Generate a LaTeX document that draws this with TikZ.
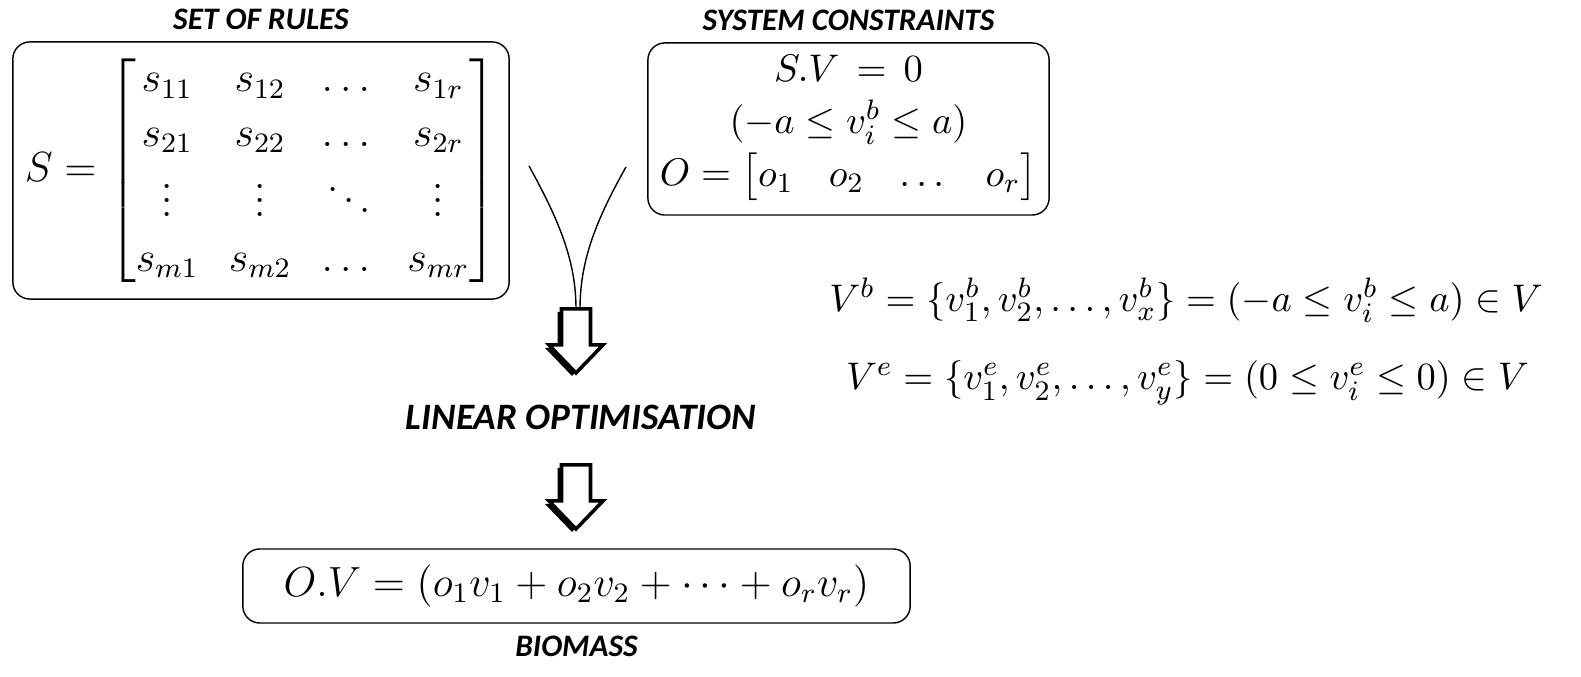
\documentclass[tikz,border=0pt]{standalone}
\usepackage{amsmath, amssymb}
\usepackage[no-math]{fontspec}
\newfontfamily\labelfont{Carlito}
\usepackage{tikz}
\usetikzlibrary{positioning}

\begin{document}
\begin{tikzpicture}[x=0.01cm, y=-0.01cm,
        box/.style={draw, rounded corners=0.17cm, inner sep=0pt},
        title/.style={font=\labelfont\bfseries\itshape\fontsize{8.9}{10}\selectfont, inner sep=0pt},
        eqn/.style={font=\fontsize{11.5}{15.6}\selectfont, inner sep=0pt}]
        \useasboundingbox (0,0) rectangle (1581,677);
        % boxes with the rules and the constraints
        \node[box, eqn, font=\fontsize{11.8}{15.6}\selectfont, minimum width=4.96cm, minimum height=2.57cm] (rules) at (261,170.5)
            {\setlength{\arraycolsep}{4.3pt}$S = \begin{bmatrix}
                s_{11} & s_{12} & \dots & s_{1r}\\
                s_{21} & s_{22} & \dots & s_{2r}\\
                \vdots & \vdots & \ddots & \vdots\\
                s_{m1} & s_{m2} & \dots & s_{mr}
            \end{bmatrix}$};
        \node[title, above=0.11cm of rules] (rulestitle) {SET OF RULES};
        \node[box, eqn, font=\fontsize{11.3}{14.8}\selectfont, align=center, minimum width=4.01cm, minimum height=1.72cm] (constr) at (848.5,129)
            {$S.V \,=\, 0$\\ $(-a \leq v_i^b \leq a)$\\ $O = \begin{bmatrix} o_1 & o_2 & \dots & o_r \end{bmatrix}$};
        \node[title, above=0.11cm of constr] (constrtitle) {SYSTEM CONSTRAINTS};
        % the two strands into the first arrow
        \coordinate (startl) at (529,166);
        \coordinate (startr) at (626,167);
        \coordinate (topl) at (576,309);
        \coordinate (topr) at (580,309);
        \draw (startl) .. controls (560,222) and (576,262) .. (topl);
        \draw (startr) .. controls (595,222) and (580,262) .. (topr);
        % hollow block arrows
        \foreach \t in {309,465} {
            \fill[shift={(-4,3)}] (561.5,\t) -- (590.5,\t) -- (590.5,\t+36) -- (603,\t+36) -- (576,\t+64)
                -- (549,\t+36) -- (561.5,\t+36) -- cycle;
            \draw[fill=white, line width=1pt] (561.5,\t) -- (590.5,\t) -- (590.5,\t+36) -- (603,\t+36)
                -- (576,\t+64) -- (549,\t+36) -- (561.5,\t+36) -- cycle;
        }
        \node[title, font=\labelfont\bfseries\itshape\fontsize{10.6}{12}\selectfont] (linopt) at (581,417) {LINEAR OPTIMISATION};
        % objective
        \node[box, eqn, minimum width=6.67cm, minimum height=0.74cm] (objective) at (576.5,586)
            {$O.V = (o_1v_1 + o_2v_2 + \cdots + o_rv_r)$};
        \node[title, below=0.12cm of objective] (biomass) {BIOMASS};
        % bounds on the fluxes
        \node[eqn, font=\fontsize{11.2}{14}\selectfont] (vb) at (1186,300) {$V^b = \{v_1^b, v_2^b, \dots, v_x^b\} = (-a \leq v_i^b \leq a) \in V$};
        \node[eqn, font=\fontsize{11.2}{14}\selectfont] (ve) at (1187.5,383) {$V^e = \{v_1^e, v_2^e, \dots, v_y^e\} = (0 \leq v_i^e \leq 0) \in V$};
\end{tikzpicture}
\end{document}
